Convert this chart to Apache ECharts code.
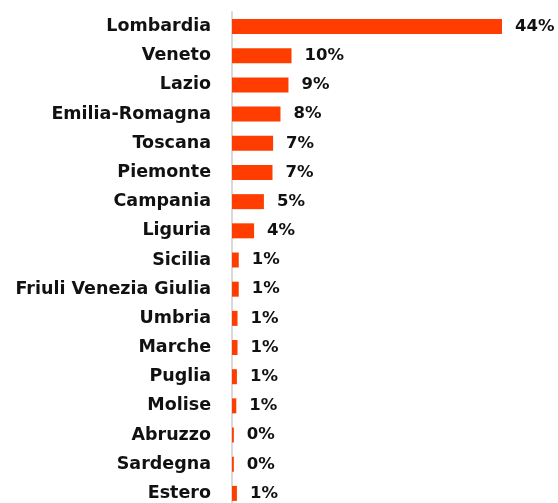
<!DOCTYPE html>
<html><head><meta charset="utf-8">
<script src="https://cdn.jsdelivr.net/npm/echarts@6/dist/echarts.min.js"></script>
<style>html,body{margin:0;padding:0;background:#fff;overflow:hidden}#c{width:558px;height:512px}</style>
</head><body><div id="c"></div>
<script>
const categories = ["Lombardia","Veneto","Lazio","Emilia-Romagna","Toscana","Piemonte","Campania","Liguria","Sicilia","Friuli Venezia Giulia","Umbria","Marche","Puglia","Molise","Abruzzo","Sardegna","Estero"];
const values = [44.0, 9.7, 9.2, 7.9, 6.7, 6.6, 5.2, 3.6, 1.1, 1.1, 0.9, 0.9, 0.8, 0.7, 0.3, 0.3, 0.8];

const chart = echarts.init(document.getElementById('c'), null, {renderer:'canvas'});
chart.setOption({
  animation:false,
  grid:{left:232, width:306.8, top:12, height:496, containLabel:false},
  xAxis:{type:'value', min:0, max:50, show:false},
  yAxis:{type:'category', inverse:true, data:categories,
    axisLine:{show:true, lineStyle:{color:'#d9d9d9', width:2}},
    axisTick:{show:false},
    axisLabel:{margin:21, color:'#111', fontSize:17.5, fontWeight:'bold', fontFamily:'DejaVu Sans'}
  },
  series:[{type:'bar', data:values, barWidth:15, itemStyle:{color:'#ff3d00'},
    label:{show:true, position:'right', distance:13, color:'#111', fontSize:16.5, fontWeight:'bold', fontFamily:'DejaVu Sans',
      formatter:p=>Math.round(p.value)+'%'}
  }]
});
</script></body></html>
